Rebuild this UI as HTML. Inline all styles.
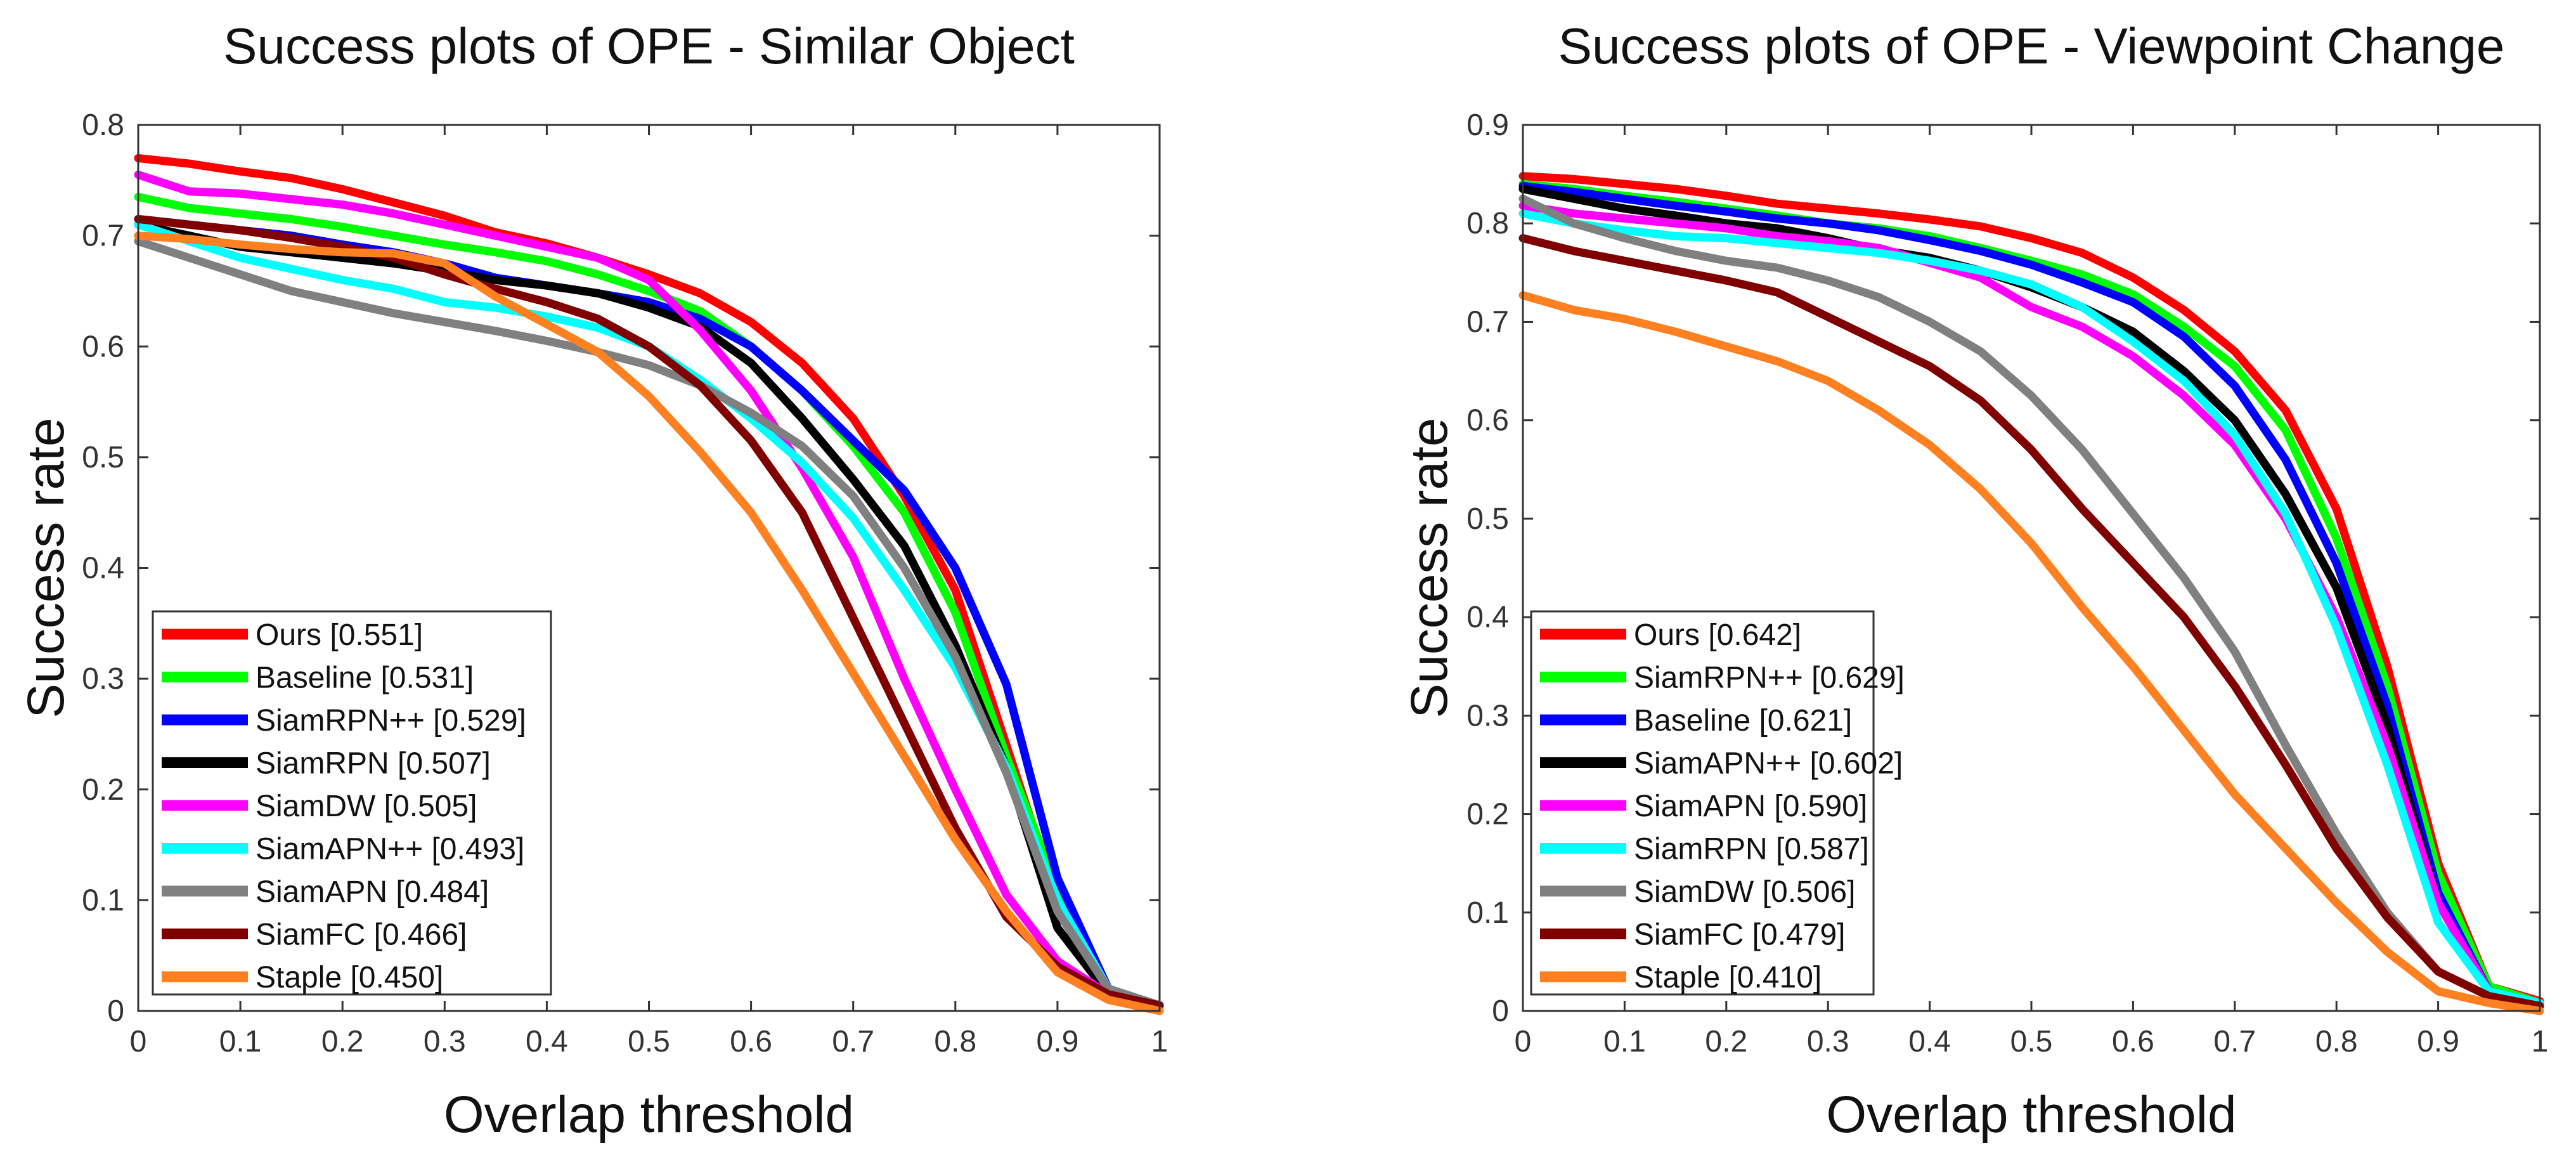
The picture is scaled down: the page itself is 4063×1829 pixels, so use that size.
<!DOCTYPE html>
<html><head><meta charset="utf-8">
<style>
html,body{margin:0;padding:0;background:#fff;}
svg{display:block;font-family:"Liberation Sans",Arial,sans-serif;}
</style></head>
<body>
<svg id="root" width="4063" height="1829" viewBox="0 0 4063 1829"></svg>
<script>
const xVals=[0,0.05,0.1,0.15,0.2,0.25,0.3,0.35,0.4,0.45,0.5,0.55,0.6,0.65,0.7,0.75,0.8,0.85,0.9,0.95,1];
const xTicks=[0,0.1,0.2,0.3,0.4,0.5,0.6,0.7,0.8,0.9,1];
const xTickLabels=["0","0.1","0.2","0.3","0.4","0.5","0.6","0.7","0.8","0.9","1"];
const leftYTicks=[0,0.1,0.2,0.3,0.4,0.5,0.6,0.7,0.8];
const rightYTicks=[0,0.1,0.2,0.3,0.4,0.5,0.6,0.7,0.8,0.9];
const leftNames=["Ours [0.551]","Baseline [0.531]","SiamRPN++ [0.529]","SiamRPN [0.507]","SiamDW [0.505]","SiamAPN++ [0.493]","SiamAPN [0.484]","SiamFC [0.466]","Staple [0.450]"];
const leftOurs=[0.77,0.765,0.758,0.752,0.742,0.73,0.718,0.703,0.693,0.68,0.665,0.648,0.622,0.585,0.535,0.465,0.38,0.24,0.1,0.02,0.005];
const leftBaseline=[0.735,0.725,0.72,0.715,0.708,0.7,0.692,0.685,0.677,0.665,0.65,0.632,0.6,0.56,0.51,0.45,0.36,0.23,0.11,0.02,0.005];
const leftSiamRPNpp=[0.715,0.71,0.705,0.7,0.692,0.685,0.675,0.662,0.655,0.648,0.64,0.625,0.6,0.56,0.515,0.47,0.4,0.295,0.12,0.02,0.005];
const leftSiamRPN=[0.71,0.7,0.69,0.685,0.68,0.675,0.668,0.66,0.655,0.648,0.635,0.618,0.585,0.535,0.48,0.42,0.33,0.22,0.075,0.015,0.005];
const leftSiamDW=[0.755,0.74,0.738,0.733,0.728,0.72,0.71,0.7,0.69,0.68,0.66,0.615,0.56,0.49,0.41,0.3,0.2,0.105,0.045,0.015,0.005];
const leftSiamAPNpp=[0.71,0.695,0.68,0.67,0.66,0.652,0.64,0.635,0.627,0.617,0.6,0.57,0.535,0.495,0.445,0.38,0.31,0.22,0.1,0.02,0.005];
const leftSiamAPN=[0.695,0.68,0.665,0.65,0.64,0.63,0.622,0.614,0.605,0.595,0.583,0.565,0.54,0.51,0.465,0.4,0.32,0.215,0.09,0.02,0.005];
const leftSiamFC=[0.715,0.71,0.705,0.698,0.69,0.68,0.665,0.652,0.64,0.625,0.6,0.565,0.515,0.45,0.355,0.26,0.165,0.085,0.04,0.015,0.005];
const leftStaple=[0.7,0.697,0.692,0.688,0.685,0.684,0.675,0.645,0.62,0.595,0.555,0.505,0.45,0.38,0.305,0.23,0.155,0.09,0.035,0.01,0.0];
const rightNames=["Ours [0.642]","SiamRPN++ [0.629]","Baseline [0.621]","SiamAPN++ [0.602]","SiamAPN [0.590]","SiamRPN [0.587]","SiamDW [0.506]","SiamFC [0.479]","Staple [0.410]"];
const rightOurs=[0.848,0.845,0.84,0.835,0.828,0.82,0.815,0.81,0.804,0.797,0.785,0.77,0.745,0.712,0.67,0.61,0.51,0.35,0.15,0.025,0.01];
const rightSiamRPNpp=[0.84,0.835,0.828,0.822,0.815,0.808,0.8,0.795,0.787,0.775,0.762,0.748,0.728,0.695,0.655,0.59,0.48,0.33,0.14,0.025,0.008];
const rightBaseline=[0.838,0.832,0.825,0.818,0.812,0.805,0.8,0.793,0.783,0.772,0.758,0.74,0.72,0.685,0.635,0.56,0.455,0.31,0.12,0.02,0.008];
const rightSiamAPNpp=[0.835,0.825,0.815,0.808,0.8,0.795,0.785,0.773,0.765,0.752,0.735,0.715,0.69,0.65,0.6,0.525,0.43,0.29,0.11,0.02,0.008];
const rightSiamAPN=[0.818,0.81,0.805,0.8,0.795,0.787,0.782,0.775,0.76,0.745,0.715,0.695,0.665,0.625,0.575,0.5,0.4,0.27,0.11,0.02,0.008];
const rightSiamRPN=[0.81,0.8,0.793,0.787,0.785,0.78,0.775,0.77,0.762,0.752,0.738,0.715,0.68,0.64,0.585,0.505,0.39,0.25,0.09,0.02,0.008];
const rightSiamDW=[0.825,0.8,0.785,0.772,0.762,0.755,0.742,0.725,0.7,0.67,0.625,0.57,0.505,0.44,0.365,0.27,0.18,0.1,0.04,0.015,0.005];
const rightSiamFC=[0.785,0.772,0.762,0.752,0.742,0.73,0.705,0.68,0.655,0.62,0.57,0.51,0.455,0.4,0.33,0.25,0.165,0.095,0.04,0.015,0.005];
const rightStaple=[0.727,0.712,0.703,0.69,0.675,0.66,0.64,0.61,0.575,0.53,0.475,0.41,0.35,0.285,0.22,0.165,0.11,0.06,0.02,0.008,0.0];

const NS="http://www.w3.org/2000/svg";
const root=document.getElementById('root');
function mk(tag,attrs,parent){const e=document.createElementNS(NS,tag);for(const k in attrs)e.setAttribute(k,attrs[k]);parent.appendChild(e);return e;}

function drawPlot(cfg){
  const g=mk('g',{},root);
  
  
  const L=cfg.left,R=cfg.right,T=197,B=1594,ymax=cfg.ymax;
  const sx=v=>L+(R-L)*v;
  const sy=v=>B-(B-T)*v/ymax;
  const bg=mk('rect',{x:L,y:T,width:R-L,height:B-T,fill:'#fff'},g);
  
  
  const t=mk('text',{x:(L+R)/2,y:100,'text-anchor':'middle','font-size':80,fill:'#111'},g);
  t.textContent=cfg.title;
  
  
  const ax=mk('g',{},g);
  
  
  xTicks.forEach((v,i)=>{
    mk('line',{x1:sx(v),x2:sx(v),y1:B,y2:B-16,stroke:'#333','stroke-width':3},ax);
    mk('line',{x1:sx(v),x2:sx(v),y1:T,y2:T+16,stroke:'#333','stroke-width':3},ax);
    const tl=mk('text',{x:sx(v),y:B+64,'text-anchor':'middle','font-size':48,fill:'#333'},ax);
    tl.textContent=xTickLabels[i];
    
    
  });
  cfg.yTicks.forEach(v=>{
    mk('line',{x1:L,x2:L+16,y1:sy(v),y2:sy(v),stroke:'#333','stroke-width':3},ax);
    mk('line',{x1:R,x2:R-16,y1:sy(v),y2:sy(v),stroke:'#333','stroke-width':3},ax);
    const tl=mk('text',{x:L-22,y:sy(v)+16,'text-anchor':'end','font-size':48,fill:'#333'},ax);
    tl.textContent=String(v);
    
    
  });
  cfg.series.forEach((s,i)=>{
    const d=s.data.map((v,j)=>(j?'L':'M')+sx(xVals[j]).toFixed(1)+','+sy(v).toFixed(1)).join(' ');
    const p=mk('path',{d:d,fill:'none',stroke:cfg.colors[i],'stroke-width':13,'stroke-linejoin':'round','stroke-linecap':'round'},g);
    
    
  });
  const box=mk('rect',{x:L,y:T,width:R-L,height:B-T,fill:'none',stroke:'#333','stroke-width':3},g);
  
  
  const xl=mk('text',{x:(L+R)/2,y:1785,'text-anchor':'middle','font-size':82,fill:'#111'},g);
  xl.textContent='Overlap threshold';
  
  
  const yx=cfg.ylabelX, yy=(T+B)/2;
  const yl=mk('text',{x:yx,y:yy,'text-anchor':'middle','font-size':82,fill:'#111',transform:'rotate(-90 '+yx+' '+yy+')'},g);
  yl.textContent='Success rate';
  
  
  const lg=mk('g',{},g);
  
  
  mk('rect',{x:cfg.lgx,y:964,width:cfg.lgw,height:604,fill:'#fff',stroke:'#333','stroke-width':3},lg);
  cfg.names.forEach((n,i)=>{
    const y=1000+i*67.5;
    const e=mk('g',{},lg);
    
    
    mk('line',{x1:cfg.lgx+14,x2:cfg.lgx+150,y1:y,y2:y,stroke:cfg.colors[i],'stroke-width':17},e);
    const tx=mk('text',{x:cfg.lgx+162,y:y+17,'font-size':48,fill:'#111'},e);
    tx.textContent=n;
  });
}
drawPlot({id:'similar-object',left:218,right:1829,ymax:0.8,yTicks:leftYTicks,title:'Success plots of OPE - Similar Object',
  ylabelX:100,lgx:241,lgw:628,names:leftNames,
  colors:['#ff0000','#00ff00','#0000ff','#000000','#ff00ff','#00ffff','#808080','#800000','#ff8020'],
  series:[{key:'ours',data:leftOurs},{key:'baseline',data:leftBaseline},{key:'siamrpnpp',data:leftSiamRPNpp},{key:'siamrpn',data:leftSiamRPN},{key:'siamdw',data:leftSiamDW},{key:'siamapnpp',data:leftSiamAPNpp},{key:'siamapn',data:leftSiamAPN},{key:'siamfc',data:leftSiamFC},{key:'staple',data:leftStaple}]});
drawPlot({id:'viewpoint-change',left:2402,right:4006,ymax:0.9,yTicks:rightYTicks,title:'Success plots of OPE - Viewpoint Change',
  ylabelX:2282,lgx:2415,lgw:540,names:rightNames,
  colors:['#ff0000','#00ff00','#0000ff','#000000','#ff00ff','#00ffff','#808080','#800000','#ff8020'],
  series:[{key:'ours',data:rightOurs},{key:'siamrpnpp',data:rightSiamRPNpp},{key:'baseline',data:rightBaseline},{key:'siamapnpp',data:rightSiamAPNpp},{key:'siamapn',data:rightSiamAPN},{key:'siamrpn',data:rightSiamRPN},{key:'siamdw',data:rightSiamDW},{key:'siamfc',data:rightSiamFC},{key:'staple',data:rightStaple}]});
</script>
</body></html>
